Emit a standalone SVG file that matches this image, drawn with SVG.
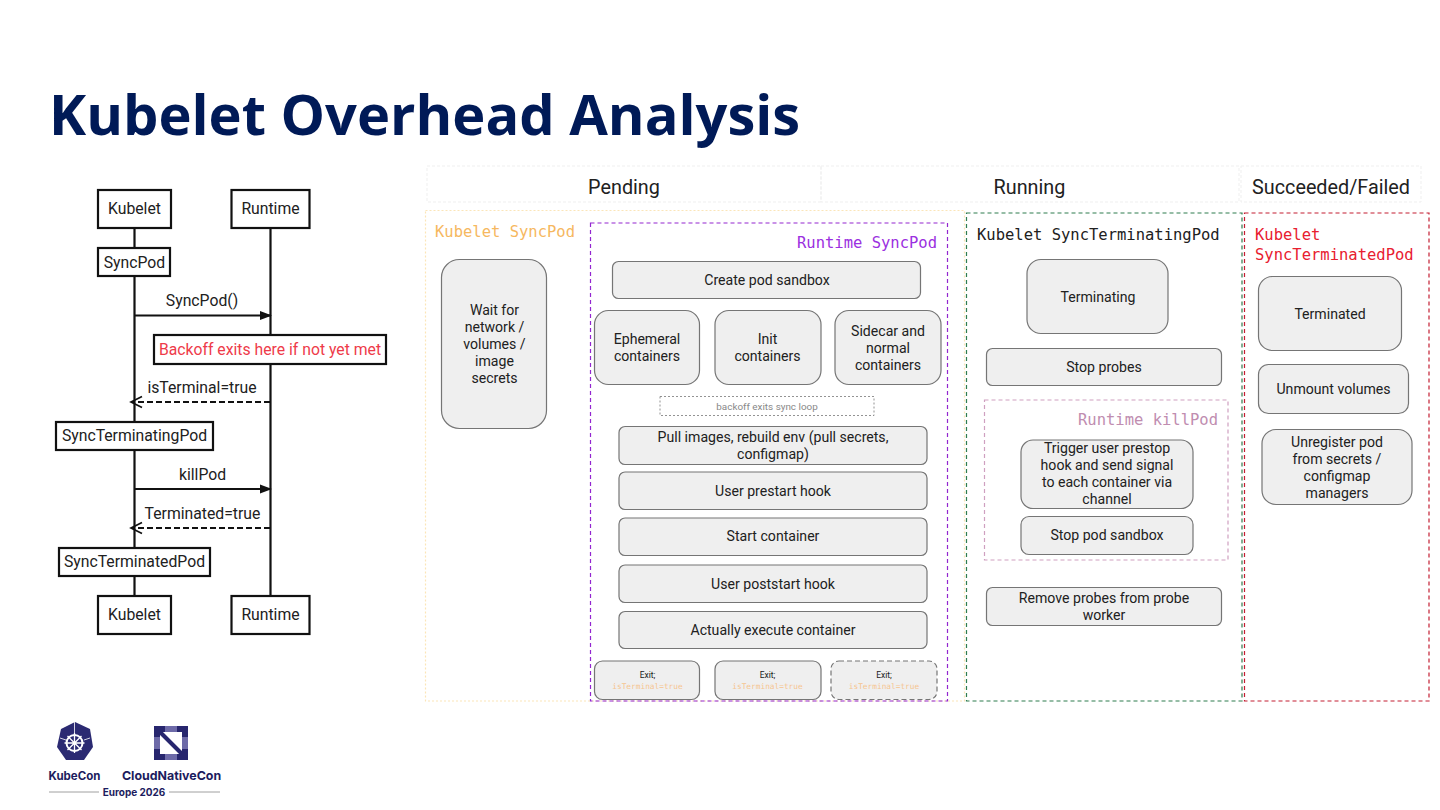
<svg xmlns="http://www.w3.org/2000/svg" width="1440" height="810" viewBox="0 0 1440 810">
<style>
text{font-family:Roboto,"Liberation Sans",sans-serif;fill:#212121}
.t{text-anchor:middle;font-size:14.100px}
.s{text-anchor:middle;font-size:15.750px}
.b{fill:#fff;stroke:#111;stroke-width:2.2}
.n{fill:#efefef;stroke:#757575;stroke-width:1.2}
.m{font-family:"DejaVu Sans Mono","Liberation Mono",monospace;font-size:15.500px}
.h{text-anchor:middle;font-size:19.800px}
.l{stroke:#111;stroke-width:2.2;fill:none}
.e{text-anchor:middle;font-size:8.500px}
.x{text-anchor:middle;font-size:7.800px;fill:#f6c58f;font-family:"DejaVu Sans Mono",monospace}
.g{font-weight:700;fill:#1c1c5e;font-family:Inter,sans-serif;text-anchor:middle}
</style>
<defs>
<marker id="a" markerWidth="12" markerHeight="10" refX="11" refY="5" orient="auto" markerUnits="userSpaceOnUse"><path d="M0 0.500L12 5L0 9.500Z" fill="#111"/></marker>
<marker id="o" markerWidth="14" markerHeight="14" refX="12" refY="7" orient="auto" markerUnits="userSpaceOnUse"><path d="M1 1.500L12 7L1 12.500" fill="none" stroke="#111" stroke-width="1.700"/></marker>
</defs>
<rect width="1440" height="810" fill="#fff"/>
<text x="49" y="135" style="font-family:'Open Sans','Noto Sans',sans-serif;font-weight:700;font-size:56px;fill:#001a57">Kubelet Overhead Analysis</text>

<g id="connectors">
<path class="l" d="M134.500 228V596M270.500 228V596"/>
<path class="l" d="M135 315.500H271" marker-end="url(#a)"/>
<path class="l" d="M270 402H131" stroke-dasharray="6 3" marker-end="url(#o)"/>
<path class="l" d="M135 489H271" marker-end="url(#a)"/>
<path class="l" d="M270 528H131" stroke-dasharray="6 3" marker-end="url(#o)"/>
<text class="s" x="202" y="306">SyncPod()</text>
<text class="s" x="202" y="393">isTerminal=true</text>
<text class="s" x="202.500" y="480">killPod</text>
<text class="s" x="202.500" y="519">Terminated=true</text>
</g>

<g id="seq-kubelet-top"><rect class="b" x="98" y="190" width="73" height="38"/><text class="s" x="134.500" y="214">Kubelet</text></g>
<g id="seq-runtime-top"><rect class="b" x="231.500" y="190" width="78" height="38"/><text class="s" x="270.500" y="214">Runtime</text></g>
<g id="seq-syncpod"><rect class="b" x="98" y="248" width="72" height="28"/><text class="s" x="134.500" y="268">SyncPod</text></g>
<g id="seq-backoff"><rect class="b" x="154" y="335" width="232" height="29"/><text class="s" x="270" y="355" style="fill:#ee3b4a">Backoff exits here if not yet met</text></g>
<g id="seq-terminating"><rect class="b" x="56" y="422" width="157" height="28"/><text class="s" x="134.500" y="441">SyncTerminatingPod</text></g>
<g id="seq-terminated"><rect class="b" x="59" y="548" width="151" height="28"/><text class="s" x="134.500" y="567">SyncTerminatedPod</text></g>
<g id="seq-kubelet-bottom"><rect class="b" x="98" y="596" width="73" height="38"/><text class="s" x="134.500" y="620">Kubelet</text></g>
<g id="seq-runtime-bottom"><rect class="b" x="231.500" y="596" width="78" height="38"/><text class="s" x="270.500" y="620">Runtime</text></g>

<g id="phases" fill="none" stroke="#efefef" stroke-dasharray="3 2">
<rect x="427" y="166" width="394" height="36"/><rect x="821" y="166" width="418" height="36"/><rect x="1241" y="166" width="180" height="36"/>
</g>
<text class="h" x="624" y="194">Pending</text>
<text class="h" x="1029.500" y="194">Running</text>
<text class="h" x="1331" y="194">Succeeded/Failed</text>

<g id="kubelet-syncpod">
<rect x="425.500" y="210.500" width="539" height="490.500" fill="none" stroke="#fbe5b8" stroke-dasharray="2 2" stroke-width="1.200"/>
<text class="m" x="435" y="237" style="fill:#f6b85f">Kubelet SyncPod</text>
<rect class="n" x="441.500" y="259.500" width="105" height="169" rx="18"/>
<text class="t" x="494.500" y="315">Wait for</text><text class="t" x="494.500" y="332">network /</text><text class="t" x="494.500" y="349">volumes /</text><text class="t" x="494.500" y="366">image</text><text class="t" x="494.500" y="383">secrets</text>
</g>

<g id="runtime-syncpod">
<rect x="590.500" y="223" width="357" height="478" fill="none" stroke="#9326d0" stroke-dasharray="4 3" stroke-width="1.200"/>
<text class="m" x="937" y="248" text-anchor="end" style="fill:#9b30e0">Runtime SyncPod</text>
</g>
<g id="create-sandbox"><rect class="n" x="612.500" y="261.500" width="308" height="37" rx="6"/><text class="t" x="767" y="285">Create pod sandbox</text></g>
<g id="ephemeral"><rect class="n" x="594.500" y="310.500" width="105" height="74" rx="14"/><text class="t" x="647" y="344">Ephemeral</text><text class="t" x="647" y="361">containers</text></g>
<g id="init"><rect class="n" x="715" y="310.500" width="106" height="74" rx="14"/><text class="t" x="767.500" y="344">Init</text><text class="t" x="767.500" y="361">containers</text></g>
<g id="sidecar"><rect class="n" x="835" y="310.500" width="106" height="74" rx="14"/><text class="t" x="888" y="336">Sidecar and</text><text class="t" x="888" y="353">normal</text><text class="t" x="888" y="370">containers</text></g>
<g id="backoff-loop"><rect x="660" y="396.500" width="214" height="19" fill="#fff" stroke="#777" stroke-dasharray="2 2" stroke-width="0.800"/><text x="767" y="409.500" text-anchor="middle" style="font-size:9.900px;fill:#888">backoff exits sync loop</text></g>
<g id="pull-images"><rect class="n" x="619" y="426.500" width="308" height="38" rx="6"/><text class="t" x="773" y="442">Pull images, rebuild env (pull secrets,</text><text class="t" x="773" y="459">configmap)</text></g>
<g id="prestart"><rect class="n" x="619" y="472" width="308" height="37.500" rx="6"/><text class="t" x="773" y="496">User prestart hook</text></g>
<g id="start"><rect class="n" x="619" y="518" width="308" height="37.500" rx="6"/><text class="t" x="773" y="541">Start container</text></g>
<g id="poststart"><rect class="n" x="619" y="565" width="308" height="37.500" rx="6"/><text class="t" x="773" y="589">User poststart hook</text></g>
<g id="execute"><rect class="n" x="619" y="611.500" width="308" height="37" rx="6"/><text class="t" x="773" y="635">Actually execute container</text></g>
<g id="exit-1"><rect class="n" x="594.500" y="661" width="105" height="38.500" rx="8"/><text class="e" x="647.500" y="678">Exit;</text><text class="x" x="647.500" y="689">isTerminal=true</text></g>
<g id="exit-2"><rect class="n" x="715" y="661" width="106" height="38.500" rx="8"/><text class="e" x="767.500" y="678">Exit;</text><text class="x" x="767.500" y="689">isTerminal=true</text></g>
<g id="exit-3"><rect class="n" x="831" y="661" width="106" height="38.500" rx="8" stroke-dasharray="5 3"/><text class="e" x="884" y="678">Exit;</text><text class="x" x="884" y="689">isTerminal=true</text></g>

<g id="kubelet-syncterminatingpod">
<rect x="966.500" y="213" width="275.500" height="488" fill="none" stroke="#2f7d4f" stroke-dasharray="4 3" stroke-width="1.200"/>
<text class="m" x="977" y="240">Kubelet SyncTerminatingPod</text>
</g>
<g id="terminating"><rect class="n" x="1027" y="259.500" width="141" height="74" rx="14"/><text class="t" x="1098" y="302">Terminating</text></g>
<g id="stop-probes"><rect class="n" x="986.500" y="348.500" width="235" height="37" rx="6"/><text class="t" x="1104" y="372">Stop probes</text></g>
<g id="runtime-killpod">
<rect x="984.500" y="400" width="243.500" height="160" fill="none" stroke="#cfa0c0" stroke-dasharray="4 3" stroke-width="1.200"/>
<text class="m" x="1218" y="425" text-anchor="end" style="fill:#c08db0">Runtime killPod</text>
</g>
<g id="prestop"><rect class="n" x="1021" y="440" width="172" height="68.500" rx="12"/><text class="t" x="1107" y="453">Trigger user prestop</text><text class="t" x="1107" y="470">hook and send signal</text><text class="t" x="1107" y="487">to each container via</text><text class="t" x="1107" y="504">channel</text></g>
<g id="stop-sandbox"><rect class="n" x="1021" y="516.500" width="172" height="38" rx="8"/><text class="t" x="1107" y="540">Stop pod sandbox</text></g>
<g id="remove-probes"><rect class="n" x="986.500" y="587.500" width="235" height="38" rx="6"/><text class="t" x="1104" y="603">Remove probes from probe</text><text class="t" x="1104" y="620">worker</text></g>

<g id="kubelet-syncterminatedpod">
<rect x="1244.500" y="213" width="184.500" height="488" fill="none" stroke="#c41e32" stroke-dasharray="4 3" stroke-width="1.200"/>
<text class="m" x="1255" y="240" style="fill:#e8202f">Kubelet</text><text class="m" x="1255" y="260" style="fill:#e8202f">SyncTerminatedPod</text>
</g>
<g id="terminated"><rect class="n" x="1258.500" y="276.500" width="143" height="74" rx="14"/><text class="t" x="1330" y="319">Terminated</text></g>
<g id="unmount"><rect class="n" x="1258.500" y="364.500" width="150" height="49" rx="10"/><text class="t" x="1333.500" y="394">Unmount volumes</text></g>
<g id="unregister"><rect class="n" x="1262" y="429.500" width="150" height="75" rx="14"/><text class="t" x="1337" y="447">Unregister pod</text><text class="t" x="1337" y="464">from secrets /</text><text class="t" x="1337" y="481">configmap</text><text class="t" x="1337" y="498">managers</text></g>

<g id="logo-kubecon">
<path d="M75 722L90 729L93 747L84 760H66L57 747L61 729Z" fill="#2b2a72"/>
<path d="M74.500 722V734M60 738L66 740M90 738L84 740" stroke="#fff" stroke-width="0.800"/>
<circle cx="74.500" cy="743" r="8" fill="none" stroke="#fff" stroke-width="2"/>
<path d="M74.500 733V753M64.500 743H84.500M67.500 736L81.500 750M81.500 736L67.500 750" stroke="#fff" stroke-width="1.300"/>
<text class="g" x="74.500" y="780" style="font-size:11.500px">KubeCon</text>
</g>
<g id="logo-cloudnativecon">
<rect x="154" y="726" width="34" height="34" fill="#27266e"/>
<rect x="160" y="732" width="22" height="22" fill="#fff"/>
<path d="M154 737H160V749H154ZM182 737H188V749H182ZM165 754H177V760H165ZM165 726H177V732H165Z" fill="#6d6aa8"/>
<path d="M160 732L182 754" stroke="#27266e" stroke-width="4"/>
<text class="g" x="171.500" y="780" style="font-size:12.400px">CloudNativeCon</text>
</g>
<g id="logo-europe">
<path d="M49 792H99M169 792H220" stroke="#888" stroke-width="0.800"/>
<text class="g" x="134" y="796" style="font-size:10px">Europe 2026</text>
</g>
</svg>
